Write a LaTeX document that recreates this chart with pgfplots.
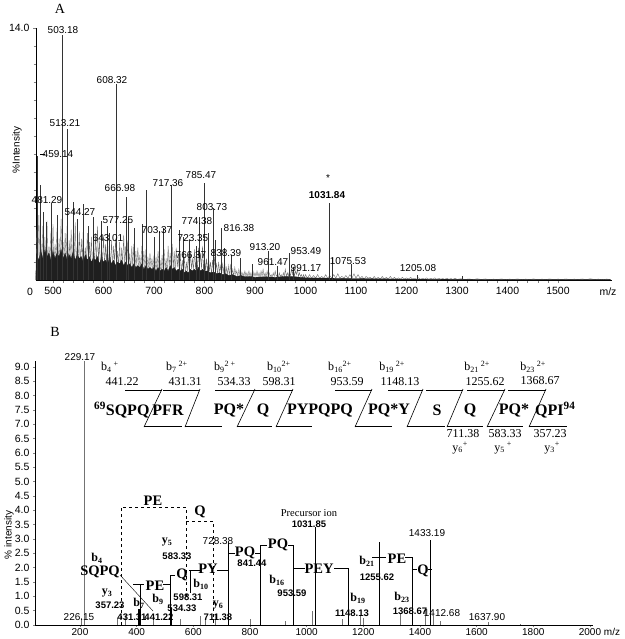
\documentclass[border=0pt]{standalone}
\usepackage{fontspec}
\setmainfont{Liberation Serif}
\newfontfamily\arial{Liberation Sans}
\usepackage{pgfplots}
\pgfplotsset{compat=1.18}
\newcommand{\tk}{\arial\fontsize{10.5}{12}\selectfont}
\newcommand{\tkb}{\arial\fontsize{10}{11}\selectfont}
\newcommand{\lb}{\arial\fontsize{10}{12}\selectfont}
\newcommand{\lbb}{\arial\bfseries\fontsize{9.5}{11}\selectfont}
\newcommand{\seqA}{\bfseries\fontsize{16}{18}\selectfont}
\newcommand{\seqB}{\bfseries\fontsize{14.5}{16}\selectfont}
\newcommand{\ion}{\fontsize{12}{14}\selectfont}
\newcommand{\bion}{\bfseries\fontsize{12}{14}\selectfont}
\begin{document}
\begin{tikzpicture}[x=1pt,y=1pt]
\path[use as bounding box] (0,0) rectangle (624,-639);
% ---------------- Panel A ----------------
\begin{axis}[
  at={(36pt,-280pt)}, anchor=south west,
  scale only axis, width=576pt, height=252pt,
  xmin=466.3, xmax=1607, ymin=0, ymax=14,
  axis x line*=bottom, axis y line*=left,
  axis line style={line width=0.6pt},
  xtick={500,600,...,1500}, minor x tick num=4,
  ytick={14}, yticklabels={14.0}, minor ytick={1,2,...,13},
  tick align=outside, major tick length=3pt, minor tick length=2.5pt,
  tick style={line width=0.4pt},
  xticklabel style={font=\tk, yshift=-1pt},
  yticklabel style={font=\tk},
  /pgf/number format/1000 sep={},
  /pgf/number format/assume math mode=true,
  clip=false,
]
\addplot[sharp plot, black!60, line width=0.35pt] coordinates {
(466,0.3)(468,2.8)(470,0.8)(472,3.6)(474,0.6)(476,2.2)(478,1.0)(480,3.0)(482,0.5)(484,2.4)(486,0.9)(488,3.3)(490,0.6)(492,1.9)(494,1.1)(496,2.7)(498,0.7)(500,3.1)(502,0.8)(504,2.0)(506,1.2)(508,2.9)(510,0.6)(512,2.3)(514,1.0)(516,3.4)(518,0.9)(520,2.1)
(522,0.8)(524,2.6)(526,1.1)(528,3.0)(530,0.7)(532,2.2)(534,1.0)(536,2.8)(538,0.6)(540,2.5)(542,1.2)(544,3.2)(546,0.8)(548,2.0)(550,1.0)(552,2.7)(554,0.7)(556,2.3)(558,1.1)(560,2.9)(562,0.6)(564,1.8)(566,0.9)(568,2.6)(570,0.8)(572,2.1)(574,1.0)(576,2.4)(578,0.5)(580,1.9)(582,0.9)(584,2.6)(586,0.7)(588,3.0)(590,1.0)(592,2.2)(594,0.6)(596,1.8)(598,0.9)(600,2.5)
(602,0.7)(604,2.0)(606,0.9)(608,2.4)(610,0.5)(612,1.7)(614,0.8)(616,2.2)(618,0.6)(620,1.9)(622,1.0)(624,2.3)(626,0.6)(628,1.6)(630,0.8)(632,2.1)(634,0.5)(636,1.8)(638,0.9)(640,2.5)(642,0.7)(644,1.9)(646,0.6)(648,2.2)(650,0.8)(652,1.5)(654,0.5)(656,1.9)(658,0.7)(660,2.0)(662,0.4)(664,1.6)(666,0.8)(668,1.8)(670,0.6)(672,1.4)(674,0.5)(676,1.9)(678,0.7)(680,1.6)(682,0.4)(684,1.7)(686,0.6)(688,1.3)(690,0.5)(692,1.5)(694,0.7)(696,1.2)(698,0.4)(700,1.4)
(702,0.5)(704,1.3)(706,0.4)(708,1.6)(710,0.6)(712,1.1)(714,0.3)(716,1.4)(718,0.5)(720,1.7)(722,0.6)(724,1.2)(726,0.4)(728,1.9)(730,0.7)(732,1.5)(734,0.5)(736,2.0)(738,0.6)(740,1.6)(742,0.4)(744,1.8)(746,0.7)(748,1.3)(750,0.5)(752,1.5)(754,0.4)(756,1.1)(758,0.5)(760,1.3)(762,0.3)(764,1.0)(766,0.5)(768,1.4)(770,0.4)(772,1.6)(774,0.6)(776,1.2)(778,0.5)(780,1.7)(782,0.6)(784,1.4)(786,0.5)(788,1.8)(790,0.7)(792,1.5)(794,0.6)(796,1.9)(798,0.5)(800,1.4)
(802,0.5)(804,1.2)(806,0.4)(808,1.3)(810,0.5)(812,1.0)(814,0.3)(816,1.1)(818,0.4)(820,1.3)(822,0.5)(824,0.9)(826,0.3)(828,1.0)(830,0.4)(832,0.8)(834,0.3)(836,0.9)(838,0.4)(840,1.0)(842,0.3)(844,0.7)(846,0.3)(848,0.8)(850,0.2)(852,0.9)(854,0.3)(856,0.6)(858,0.2)(860,0.7)(862,0.3)(864,0.5)(866,0.2)(868,0.6)(870,0.3)(872,0.5)(874,0.2)(876,0.4)(878,0.2)(880,0.5)(882,0.2)(884,0.4)(886,0.2)(888,0.5)(890,0.2)(892,0.4)(894,0.1)(896,0.5)(898,0.2)(900,0.4)
(902,0.2)(904,0.5)(906,0.2)(908,0.4)(910,0.1)(912,0.5)(914,0.2)(916,0.6)(918,0.2)(920,0.4)(922,0.1)(924,0.5)(926,0.2)(928,0.4)(930,0.2)(932,0.3)(934,0.1)(936,0.4)(938,0.2)(940,0.5)(942,0.2)(944,0.3)(946,0.1)(948,0.4)(950,0.2)(952,0.3)(954,0.1)(956,0.4)(958,0.2)(960,0.6)(962,0.2)(964,0.4)(966,0.2)(968,0.5)(970,0.2)(972,0.6)(974,0.3)(976,0.7)(978,0.2)(980,0.5)(982,0.3)(984,0.6)(986,0.2)(988,0.4)(990,0.2)(992,0.3)(994,0.1)(996,0.3)(998,0.1)(1000,0.3)
(1004,0.1)(1008,0.3)(1012,0.1)(1016,0.25)(1020,0.1)(1024,0.3)(1028,0.1)(1032,0.2)(1036,0.1)(1040,0.3)(1044,0.1)(1048,0.25)(1052,0.1)(1056,0.3)(1060,0.1)(1064,0.35)(1068,0.1)(1072,0.2)(1076,0.1)(1080,0.25)(1084,0.1)(1088,0.3)(1092,0.1)(1096,0.35)(1100,0.1)(1104,0.3)(1108,0.1)(1112,0.2)(1116,0.05)(1120,0.2)(1124,0.1)(1128,0.15)(1132,0.05)(1136,0.2)(1140,0.05)(1144,0.15)(1148,0.05)(1152,0.2)(1156,0.05)(1160,0.15)(1164,0.05)(1168,0.2)(1172,0.05)(1176,0.15)(1180,0.05)(1184,0.12)(1188,0.05)(1192,0.15)(1196,0.05)(1200,0.12)(1204,0.05)(1208,0.15)(1212,0.05)(1216,0.1)(1220,0.05)(1224,0.12)(1228,0.04)(1232,0.1)(1236,0.05)(1240,0.12)(1244,0.04)(1248,0.1)(1252,0.05)(1256,0.12)(1260,0.04)(1264,0.1)(1268,0.05)(1272,0.08)(1276,0.04)(1280,0.1)(1284,0.04)(1288,0.08)(1292,0.04)(1296,0.1)(1300,0.04)
(1308,0.07)(1316,0.03)(1324,0.06)(1332,0.02)(1340,0.07)(1348,0.03)(1356,0.06)(1364,0.02)(1372,0.05)(1380,0.03)(1388,0.06)(1396,0.02)(1404,0.05)(1412,0.03)(1420,0.06)(1428,0.02)(1436,0.05)(1444,0.03)(1452,0.06)(1460,0.02)(1468,0.05)(1476,0.03)(1484,0.06)(1492,0.02)(1500,0.05)(1508,0.03)(1516,0.06)(1524,0.02)(1532,0.05)(1540,0.03)(1548,0.06)(1556,0.02)(1564,0.07)(1572,0.03)(1580,0.05)(1588,0.02)(1596,0.05)(1604,0.03)
};
% dense dark core of the spectrum
\addplot[sharp plot, fill=black!88, draw=black!88, line width=0.3pt] coordinates {
(466,0.2)(468,1.4)(472,1.1)(476,1.6)(480,1.2)(484,1.7)(488,1.3)(492,1.5)(496,1.1)(500,1.6)(504,1.2)(508,1.5)(512,1.3)(516,1.7)(520,1.2)(524,1.5)(528,1.1)(532,1.4)(536,1.2)(540,1.6)(544,1.1)(548,1.4)(552,1.2)(556,1.3)(560,1.0)(564,1.4)(568,1.1)(572,1.3)(576,1.0)(580,1.2)(584,1.1)(588,1.3)(592,0.9)(596,1.2)(600,1.0)(604,1.1)(608,0.9)(612,1.2)(616,0.9)(620,1.1)(624,0.8)(628,1.0)(632,0.9)(636,1.1)(640,0.8)(644,1.0)(648,0.8)(652,0.9)(656,0.7)(660,0.9)(664,0.7)(668,0.8)(672,0.7)(676,0.9)(680,0.6)(684,0.8)(688,0.6)(692,0.7)(696,0.6)(700,0.7)(704,0.5)(708,0.7)(712,0.5)(716,0.6)(720,0.5)(724,0.7)(728,0.5)(732,0.8)(736,0.6)(740,0.7)(744,0.5)(748,0.6)(752,0.5)(756,0.6)(760,0.4)(764,0.5)(768,0.4)(772,0.6)(776,0.5)(780,0.6)(784,0.5)(788,0.7)(792,0.5)(796,0.6)(800,0.5)(806,0.5)(812,0.4)(818,0.45)(824,0.35)(830,0.4)(836,0.3)(842,0.35)(848,0.25)(856,0.3)(864,0.2)(872,0.25)(880,0.18)(890,0.2)(900,0.15)(920,0.18)(940,0.15)(960,0.2)(980,0.18)(1000,0.12)(1050,0.1)(1100,0.08)(1200,0.05)(1300,0.03)(1450,0.02)(1604,0.02)
} \closedcycle;
\addplot[ycomb, black!80, line width=0.55pt] coordinates {
(469.7,6.9)(474.3,5.3)(480,3.8)(487,3.2)(497,4.3)(508,3.6)(519.2,13.6)(529.1,8.4)(540,4.35)(548,3.4)(560,4.2)(570,3.0)(580,3.5)(595,3.3)(607,3.0)(612,2.6)(624.8,10.9)(644.6,4.6)(650,3.4)(660,2.9)(676,3.1)(684,5.0)(700,2.4)(710,2.7)(718,2.9)(733.7,5.3)(749.5,2.8)(758,2.4)(770,2.2)(783,1.9)(789,3.5)(799,5.4)(808,2.6)(816.8,4.0)(822,2.2)(832.7,2.9)(840,1.8)(854,1.4)(870,1.2)(895,0.9)(925.7,1.6)(943.6,0.8)(967.3,1.5)(975,0.7)(1046.5,4.3)(1054,1.2)(1090,0.9)(1220.8,0.3)(1310,0.2)
};
\end{axis}
% Panel A annotations
\node[font=\fontsize{14}{15}\selectfont] at (60,-9) {A};
\node[font=\lb, rotate=90] at (17,-150) {\%Intensity};
\node[font=\tk] at (30,-292) {0};
\node[font=\tk] at (608,-292) {m/z};
\begin{scope}[every node/.style={font=\lb, inner sep=0pt}]
\node at (63,-30) {503.18};
\node at (112,-80) {608.32};
\node at (65,-123) {513.21};
\node at (58,-154) {459.14};
\draw[line width=0.4pt] (40,-154)--(45,-154);
\node at (47,-200) {481.29};
\node at (80,-212) {544.27};
\node at (118,-220) {577.25};
\node at (108,-238) {643.01};
\node at (120,-188) {666.98};
\node at (157,-230) {703.37};
\node at (168,-183) {717.36};
\node at (193,-238) {723.35};
\node at (191,-255) {766.37};
\node at (197,-221) {774.38};
\node at (201,-175) {785.47};
\node at (212,-207) {803.73};
\node at (239,-228) {816.38};
\node at (226,-253) {838.39};
\node at (265,-247) {913.20};
\node at (273,-262) {961.47};
\node at (306,-251) {953.49};
\node at (306,-268) {991.17};
\node at (328,-178) {*};
\node[font=\arial\bfseries\fontsize{10}{12}\selectfont] at (327,-195) {1031.84};
\node at (348,-261) {1075.53};
\node at (418,-268) {1205.08};
\end{scope}
% ---------------- Panel B ----------------
\begin{axis}[
  at={(35pt,-625pt)}, anchor=south west,
  scale only axis, width=558pt, height=264pt,
  xmin=41.2, xmax=2010.8, ymin=0, ymax=9.2,
  axis x line*=bottom, axis y line*=left,
  axis line style={line width=1pt},
  xtick={200,400,...,2000},
  ytick={0,0.5,...,9.0},
  yticklabel style={font=\tk, /pgf/number format/.cd, fixed, fixed zerofill, precision=1},
  xticklabel style={font=\tkb, yshift=2.5pt},
  /pgf/number format/1000 sep={},
  /pgf/number format/assume math mode=true,
  tick align=outside, major tick length=2pt,
  tick style={line width=0.5pt},
  clip=false,
]
\addplot[ycomb, black!55, line width=0.45pt] coordinates {
(214.1,9.2)(203.5,0.25)(330.6,0.25)(358.8,0.35)(457.7,0.3)(553,0.2)(623.6,0.3)(641,0.2)(676.5,0.4)(800,0.2)(923.6,0.15)(1019,0.5)(1124.8,0.2)(1188,0.35)(1199,0.25)(1329.5,0.4)(1417.8,0.55)(1446,0.3)(1471,0.15)(1640,0.12)(1753,0.05)
};
\addplot[ycomb, black, line width=0.6pt] coordinates {
(411.8,1.43)(517.7,1.74)(722.4,2.86)(835.4,2.79)(951.9,2.79)(1029.5,3.42)(1146,2.0)(1255.4,2.9)(1372,2.37)(1435.5,2.97)
};
\addplot[ycomb, black, line width=1.6pt] coordinates {(408,0.55)(521,0.55)};
\end{axis}
\node[font=\fontsize{14}{15}\selectfont] at (55,-332) {B};
\node[font=\lb, rotate=90] at (9,-535) {\% intensity};
\node[font=\tkb] at (612,-632) {m/z};
% top sequence
\begin{scope}[line width=0.6pt]
\foreach \t/\b in {162/144,200/185,255/237,293/276,372/355,423/407,463/447,505/487,546/529}{
  \draw (\t,-389)--(\b,-427);
}
\foreach \a/\c in {125/162,163/200,215/255,255/293,335/372,388/423,426/463,467/505,508/546}{
  \draw (\a,-390)--(\c,-390);
}
\foreach \a/\c in {144/182,185/222,237/272,276/312,355/392,407/445,447/483,487/523,529/567}{
  \draw (\a,-426)--(\c,-426);
}
\end{scope}
\begin{scope}[every node/.style={inner sep=0pt}]
\node[font=\seqA, anchor=west] at (94,-410) {\textsuperscript{69}SQPQ};
\node[font=\seqA] at (168,-410) {PFR};
\node[font=\seqA] at (229,-410) {PQ*};
\node[font=\seqA] at (263,-410) {Q};
\node[font=\seqA] at (320,-410) {PYPQPQ};
\node[font=\seqA] at (389,-410) {PQ*Y};
\node[font=\seqA] at (437,-410) {S};
\node[font=\seqA] at (470,-410) {Q};
\node[font=\seqA] at (514,-410) {PQ*};
\node[font=\seqA, anchor=west] at (535,-410) {QPI\textsuperscript{94}};
\node[font=\ion] at (110,-367) {b\textsubscript{4}\textsuperscript{ +}};
\node[font=\ion] at (122,-382) {441.22};
\node[font=\ion] at (177,-367) {b\textsubscript{7}\textsuperscript{ 2+}};
\node[font=\ion] at (185,-382) {431.31};
\node[font=\ion] at (225,-367) {b\textsubscript{9}\textsuperscript{2 +}};
\node[font=\ion] at (234,-382) {534.33};
\node[font=\ion] at (279,-367) {b\textsubscript{10}\textsuperscript{2+}};
\node[font=\ion] at (279,-382) {598.31};
\node[font=\ion] at (340,-367) {b\textsubscript{16}\textsuperscript{2+}};
\node[font=\ion] at (347,-382) {953.59};
\node[font=\ion] at (392,-367) {b\textsubscript{19}\textsuperscript{ 2+}};
\node[font=\ion] at (400,-382) {1148.13};
\node[font=\ion] at (477,-367) {b\textsubscript{21}\textsuperscript{ 2+}};
\node[font=\ion] at (485,-382) {1255.62};
\node[font=\ion] at (533,-367) {b\textsubscript{23}\textsuperscript{ 2+}};
\node[font=\ion] at (540,-381) {1368.67};
\node[font=\ion] at (463,-434) {711.38};
\node[font=\ion] at (460,-448) {y\textsubscript{6}\textsuperscript{+}};
\node[font=\ion] at (505,-434) {583.33};
\node[font=\ion] at (503,-448) {y\textsubscript{5}\textsuperscript{ +}};
\node[font=\ion] at (550,-434) {357.23};
\node[font=\ion] at (552,-448) {y\textsubscript{3}\textsuperscript{+}};
\end{scope}
% lower ladder
\begin{scope}[line width=0.6pt]
\draw[line width=0.4pt] (120,-575)--(153,-611);
\draw (133,-584)--(144,-584);
\draw (163,-584)--(170,-584)--(170,-575)--(175,-575);
\draw (189,-570)--(200,-570);
\draw (190,-570)--(190,-593);
\draw (217,-570)--(228,-570);
\draw (228,-553)--(235,-553);
\draw (255,-553)--(260,-553)--(260,-545)--(267,-545);
\draw (288,-545)--(293,-545)--(293,-568)--(305,-568);
\draw (334,-568)--(348,-568);
\draw (372,-557)--(386,-557);
\draw (405,-557)--(412,-557)--(412,-569)--(417,-569);
\draw (428,-569)--(432,-569);
\draw[dashed, line width=0.5pt] (121,-625)--(121,-507)--(186,-507)--(186,-600);
\draw[dashed, line width=0.5pt] (186,-521)--(213,-521)--(213,-625);
\end{scope}
\begin{scope}[every node/.style={inner sep=0pt}]
\node[font=\seqB] at (100,-572) {SQPQ};
\node[font=\seqB] at (155,-586) {PE};
\node[font=\seqB] at (182,-575) {Q};
\node[font=\seqB] at (208,-569) {PY};
\node[font=\seqB] at (245,-553) {PQ};
\node[font=\seqB] at (278,-545) {PQ};
\node[font=\seqB] at (319,-569) {PEY};
\node[font=\seqB] at (397,-559) {PE};
\node[font=\seqB] at (423,-571) {Q};
\node[font=\seqB] at (153,-501) {PE};
\node[font=\seqB] at (200,-512) {Q};
\node[font=\bion] at (97,-558) {b\textsubscript{4}};
\node[font=\bion] at (107,-593) {y\textsubscript{3}};
\node[font=\lbb] at (110,-605) {357.23};
\node[font=\bion] at (139,-603) {b\textsubscript{7}};
\node[font=\lbb] at (132,-617) {431.31};
\node[font=\lbb] at (159,-617) {441.22};
\node[font=\bion] at (167,-542) {y\textsubscript{5}};
\node[font=\lbb] at (177,-556) {583.33};
\node[font=\bion] at (158,-599) {b\textsubscript{9}};
\node[font=\lbb] at (188,-597) {598.31};
\node[font=\lbb] at (182,-608) {534.33};
\node[font=\bion] at (201,-584) {b\textsubscript{10}};
\node[font=\bion] at (218,-605) {y\textsubscript{6}};
\node[font=\lbb] at (218,-617) {711.38};
\node[font=\lb] at (218,-541) {728.38};
\node[font=\lbb] at (252,-563) {841.44};
\node[font=\bion] at (277,-580) {b\textsubscript{16}};
\node[font=\lbb] at (292,-593) {953.59};
\node[font=\fontsize{10.5}{12}\selectfont] at (309,-513) {Precursor ion};
\node[font=\lbb] at (309,-524) {1031.85};
\node[font=\bion] at (358,-598) {b\textsubscript{19}};
\node[font=\lbb] at (352,-613) {1148.13};
\node[font=\bion] at (367,-561) {b\textsubscript{21}};
\node[font=\lbb] at (377,-577) {1255.62};
\node[font=\bion] at (402,-597) {b\textsubscript{23}};
\node[font=\lbb] at (410,-611) {1368.67};
\node[font=\lb] at (427,-533) {1433.19};
\node[font=\lb] at (442,-613) {1412.68};
\node[font=\lb] at (487,-617) {1637.90};
\node[font=\lb] at (80,-357) {229.17};
\node[font=\lb] at (79,-617) {226.15};
\end{scope}
\end{tikzpicture}
\end{document}
